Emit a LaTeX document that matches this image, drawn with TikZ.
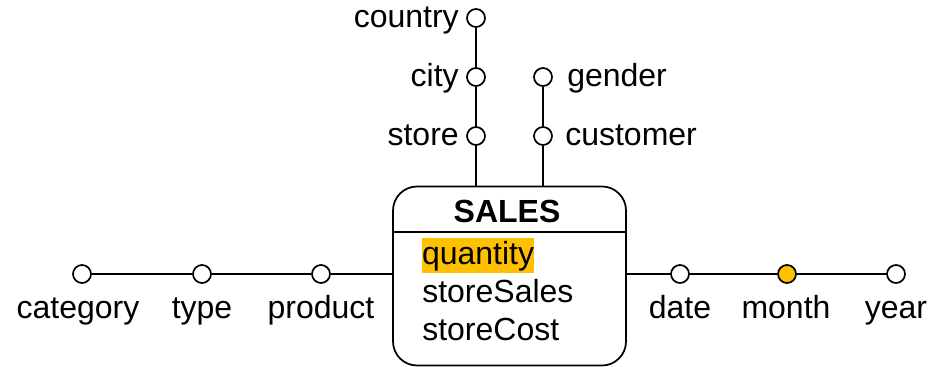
\documentclass[tikz,border=0pt]{standalone}
\usepackage{fontspec}
\setmainfont{Liberation Sans}
\definecolor{hilite}{HTML}{FFC000}
\begin{document}
\begin{tikzpicture}[x=0.75pt,y=-0.75pt,
  font=\fontsize{24}{28}\selectfont,
  level/.style={circle,draw,line width=1.3pt,fill=white,minimum size=13.5pt,inner sep=0pt},
  hotlevel/.style={level,fill=hilite},
  link/.style={line width=1pt},
  lbl/.style={inner sep=0pt}]
\useasboundingbox (0,0) rectangle (935,367);

% fact box
\node[draw,line width=1.3pt,rounded corners=18pt,minimum width=174.75pt,minimum height=134.25pt,inner sep=0pt]
  (sales) at (509.5,276) {};
\coordinate (hl) at (393,232);
\coordinate (hr) at (626,232);
\draw[line width=1.3pt] (hl) -- (hr);
\node[lbl,font=\fontsize{24}{28}\selectfont\bfseries,anchor=base] (title) at (507,222) {SALES};
\node[lbl,anchor=base west,fill=hilite,inner ysep=2pt,outer sep=0pt] (m1) at (422,264) {quantity};
\node[lbl,anchor=base west] (m2) at (422,302) {storeSales};
\node[lbl,anchor=base west] (m3) at (422,340) {storeCost};

% store dimension
\node[level] (store) at (476,136) {};
\node[level] (city) at (476,77) {};
\node[level] (country) at (476,18) {};
\node[lbl,anchor=base east] (storeL) at (459,146) {store};
\node[lbl,anchor=base east] (cityL) at (459,87) {city};
\node[lbl,anchor=base east] (countryL) at (459,28) {country};
\draw[link] (sales.north -| store) -- (store) -- (city) -- (country);

% customer dimension
\node[level] (customer) at (543,136) {};
\node[level] (gender) at (543,77) {};
\node[lbl,anchor=base west] (customerL) at (565,146) {customer};
\node[lbl,anchor=base west] (genderL) at (567,87) {gender};
\draw[link] (sales.north -| customer) -- (customer) -- (gender);

% product dimension
\node[level] (product) at (321,274) {};
\node[level] (type) at (202,274) {};
\node[level] (category) at (82,274) {};
\node[lbl,anchor=base] (productL) at (321,318) {product};
\node[lbl,anchor=base] (typeL) at (202,318) {type};
\node[lbl,anchor=base] (categoryL) at (78,318) {category};
\draw[link] (product -| sales.west) -- (product) -- (type) -- (category);

% time dimension
\node[level] (date) at (680,274) {};
\node[hotlevel] (month) at (787,274) {};
\node[level] (year) at (896,274) {};
\node[lbl,anchor=base] (dateL) at (680,318) {date};
\node[lbl,anchor=base] (monthL) at (786,318) {month};
\node[lbl,anchor=base] (yearL) at (896,318) {year};
\draw[link] (date -| sales.east) -- (date) -- (month) -- (year);
\end{tikzpicture}
\end{document}
